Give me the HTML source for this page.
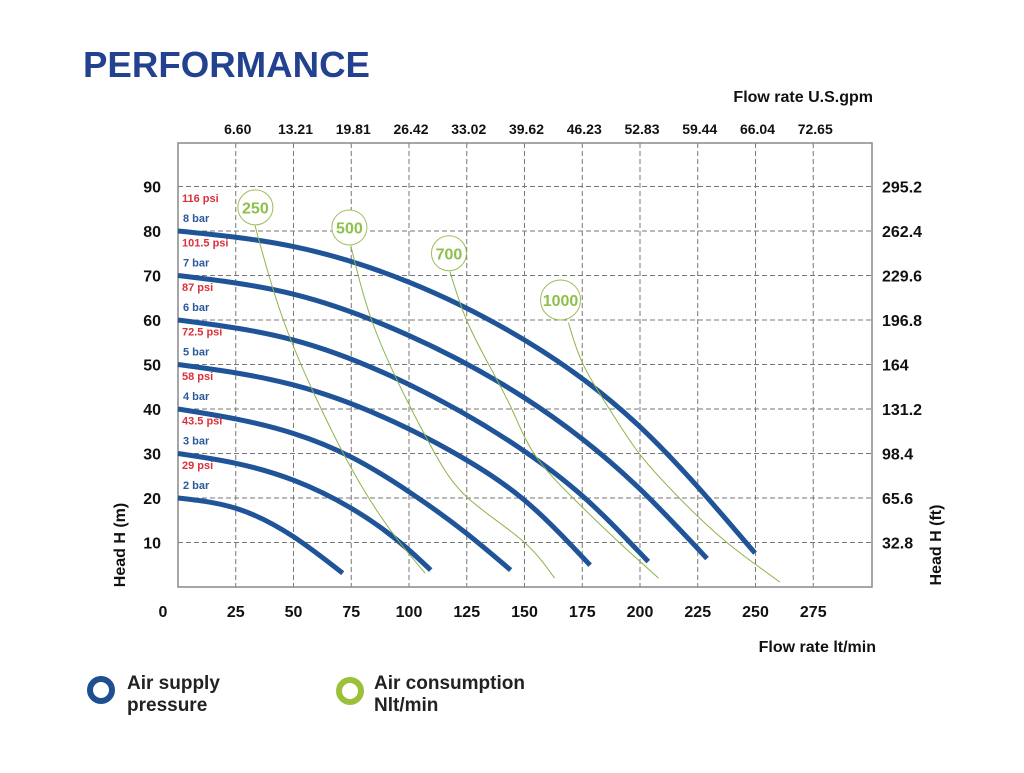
<!DOCTYPE html>
<html><head><meta charset="utf-8"><style>
body{margin:0;background:#fff;width:1024px;height:768px;overflow:hidden;font-family:"Liberation Sans",Arial,sans-serif}
</style></head><body>
<svg id="chart" width="1024" height="768" xmlns="http://www.w3.org/2000/svg" font-family="Liberation Sans, Arial, sans-serif">
<text x="83" y="77" font-size="36" font-weight="bold" fill="#22418f" textLength="287" lengthAdjust="spacingAndGlyphs">PERFORMANCE</text>
<text x="873" y="102" font-size="16" font-weight="bold" text-anchor="end" fill="#111">Flow rate U.S.gpm</text>
<text x="876" y="652" font-size="16" font-weight="bold" text-anchor="end" fill="#111">Flow rate  lt/min</text>
<text transform="translate(125,545) rotate(-90)" font-size="16" font-weight="bold" text-anchor="middle" fill="#111">Head H (m)</text>
<text transform="translate(941,545) rotate(-90)" font-size="16" font-weight="bold" text-anchor="middle" fill="#111">Head H (ft)</text>
<g id="grid"></g><g id="axes"></g><g id="blue"></g><g id="green"></g><g id="labels"></g>
<g>
<circle cx="101" cy="690" r="11" fill="none" stroke="#1d4f91" stroke-width="6"/>
<text x="127" y="689" font-size="19" font-weight="bold" fill="#222">Air supply</text>
<text x="127" y="711" font-size="19" font-weight="bold" fill="#222">pressure</text>
</g>
<g>
<circle cx="350" cy="691" r="11" fill="none" stroke="#9dc03b" stroke-width="6"/>
<text x="374" y="689" font-size="19" font-weight="bold" fill="#222">Air consumption</text>
<text x="374" y="711" font-size="19" font-weight="bold" fill="#222">Nlt/min</text>
</g>
</svg>
<script>
const xTicks=[25,50,75,100,125,150,175,200,225,250,275];
const gpmLabels=["6.60","13.21","19.81","26.42","33.02","39.62","46.23","52.83","59.44","66.04","72.65"];
const yTicks=[10,20,30,40,50,60,70,80,90];
const ftLabels=["32.8","65.6","98.4","131.2","164","196.8","229.6","262.4","295.2"];
const barNames=["2 bar","3 bar","4 bar","5 bar","6 bar","7 bar","8 bar"];
const psiNames=["29 psi","43.5 psi","58 psi","72.5 psi","87 psi","101.5 psi","116 psi"];
const bar2=[[0,20],[25,17.7],[50,11.3],[71.3,3.1]];
const bar3=[[0,30],[25,27.8],[50,24],[75,17.7],[100,8.3],[109.4,3.8]];
const bar4=[[0,40],[50,34.5],[75,29.2],[100,21.4],[125,12],[144,3.8]];
const bar5=[[0,50],[50,45.4],[100,35.5],[125,28.5],[150,19.5],[178.4,4.9]];
const bar6=[[0,60],[50,55.5],[100,45.5],[150,30.5],[175,20.5],[203.6,5.7]];
const bar7=[[0,70],[50,65.8],[100,56.5],[150,42.5],[200,22],[229,6.4]];
const bar8=[[0,80],[50,76.5],[100,68.5],[150,55.5],[200,36],[249.8,7.6]];
const airNames=["250","500","700","1000"];
const airCircles=[[33.5,85.3],[74.2,80.8],[117.3,75],[165.6,64.5]];
const air250=[[33.3,81.3],[45.6,60],[62,40],[72.3,29.3],[96,10],[107,3.1]];
const air500=[[74.8,76.7],[83.8,60],[101,40],[112,29.3],[125.5,20],[150,10],[163,2]];
const air700=[[117.7,70.9],[124.9,60],[144.5,40],[155,29.3],[171,20],[191,10],[208,2]];
const air1000=[[169,59.4],[175.5,49.9],[187,39.8],[200.7,29.3],[217,20],[237.6,10],[260.6,1.1]];

const L=178,R=872,T=143,B=587;
const X=v=>L+v*2.31, Y=v=>B-v*4.45;
const NS="http://www.w3.org/2000/svg";
function mk(tag,parent,attrs){const e=document.createElementNS(NS,tag);for(const k in attrs)e.setAttribute(k,attrs[k]);parent.appendChild(e);return e;}
// natural cubic spline -> bezier segments in (t,v)
function spline(t,v){const n=t.length,h=[],d=[];
 for(let i=0;i<n-1;i++){h.push(t[i+1]-t[i]);d.push((v[i+1]-v[i])/h[i]);}
 const M=new Array(n).fill(0);
 if(n>2){const a=[],b=[],c=[],r=[];
  for(let i=1;i<n-1;i++){a.push(h[i-1]);b.push(2*(h[i-1]+h[i]));c.push(h[i]);r.push(6*(d[i]-d[i-1]));}
  const k=b.length;for(let i=1;i<k;i++){const w=a[i]/b[i-1];b[i]-=w*c[i-1];r[i]-=w*r[i-1];}
  const sol=new Array(k);sol[k-1]=r[k-1]/b[k-1];for(let i=k-2;i>=0;i--)sol[i]=(r[i]-c[i]*sol[i+1])/b[i];
  for(let i=0;i<k;i++)M[i+1]=sol[i];}
 const m=[];for(let i=0;i<n-1;i++)m.push(d[i]-h[i]*(2*M[i]+M[i+1])/6);
 m.push(d[n-2]+h[n-2]*(M[n-2]+2*M[n-1])/6);
 const segs=[];
 for(let i=0;i<n-1;i++){const hh=h[i];
  segs.push([[t[i]+hh/3,v[i]+m[i]*hh/3],[t[i+1]-hh/3,v[i+1]-m[i+1]*hh/3],[t[i+1],v[i+1]]]);}
 return segs;}
function pathXY(pts){
 const segs=spline(pts.map(p=>p[0]),pts.map(p=>p[1]));
 let s="M"+X(pts[0][0])+","+Y(pts[0][1]);
 segs.forEach(g=>{s+=" C"+g.map(c=>X(c[0])+","+Y(c[1])).join(" ");});return s;}
function pathYX(pts){
 const r=pts.slice().reverse();
 const segs=spline(r.map(p=>p[1]),r.map(p=>p[0]));
 let s="M"+X(r[0][0])+","+Y(r[0][1]);
 segs.forEach(g=>{s+=" C"+g.map(c=>X(c[1])+","+Y(c[0])).join(" ");});return s;}
const grid=document.getElementById('grid'),axes=document.getElementById('axes');
xTicks.forEach((t,i)=>{
 const l=mk('line',grid,{x1:X(t),x2:X(t),y1:T,y2:B,stroke:'#777','stroke-dasharray':'5,3','stroke-width':1});
 
 
 const a=mk('text',axes,{x:X(t),y:617,'font-size':16,'font-weight':'bold','text-anchor':'middle',fill:'#111'});a.textContent=t;
 
 
 const g=mk('text',axes,{x:X(t)+2,y:134,'font-size':14,'font-weight':'bold','text-anchor':'middle',fill:'#111'});g.textContent=gpmLabels[i];
 
 
});
const z=mk('text',axes,{x:163,y:617,'font-size':16,'font-weight':'bold','text-anchor':'middle',fill:'#111'});z.textContent="0";


yTicks.forEach((t,i)=>{
 const l=mk('line',grid,{x1:L,x2:R,y1:Y(t),y2:Y(t),stroke:'#777','stroke-dasharray':'5,3','stroke-width':1});
 
 
 const a=mk('text',axes,{x:161,y:Y(t)+6,'font-size':16,'font-weight':'bold','text-anchor':'end',fill:'#111'});a.textContent=t;
 
 
 const f=mk('text',axes,{x:882,y:Y(t)+6,'font-size':16,'font-weight':'bold',fill:'#111'});f.textContent=ftLabels[i];
 
 
});
const fr=mk('rect',axes,{x:L,y:T,width:R-L,height:B-T,fill:'none',stroke:'#888','stroke-width':1.5});


const blue=document.getElementById('blue'),labels=document.getElementById('labels');
[bar2,bar3,bar4,bar5,bar6,bar7,bar8].forEach((s,i)=>{
 const p=mk('path',blue,{d:pathXY(s),fill:'none',stroke:'#1f5499','stroke-width':5});
 
 
 const y0=Y(s[0][1]);
 const r=mk('text',labels,{x:182,y:y0-29,'font-size':11,'font-weight':'bold',fill:'#d9313a'});r.textContent=psiNames[i];
 
 
 const b=mk('text',labels,{x:183,y:y0-9,'font-size':11,'font-weight':'bold',fill:'#2b5a9a'});b.textContent=barNames[i];
 
 
});
const green=document.getElementById('green');
[air250,air500,air700,air1000].forEach((s,i)=>{
 const p=mk('path',green,{d:pathYX(s),fill:'none',stroke:'#8db44a','stroke-width':1});
 
 
 const rr=airNames[i]==="1000"?20:17.5;
 const c=mk('circle',green,{cx:X(airCircles[i][0]),cy:Y(airCircles[i][1]),r:rr,fill:'#fff',stroke:'#9bbf5a','stroke-width':1});
 
 
 const t=mk('text',green,{x:X(airCircles[i][0]),y:Y(airCircles[i][1])+6,'font-size':16,'font-weight':'bold','text-anchor':'middle',fill:'#8cc04a'});t.textContent=airNames[i];
 
 
});
</script>
</body></html>
